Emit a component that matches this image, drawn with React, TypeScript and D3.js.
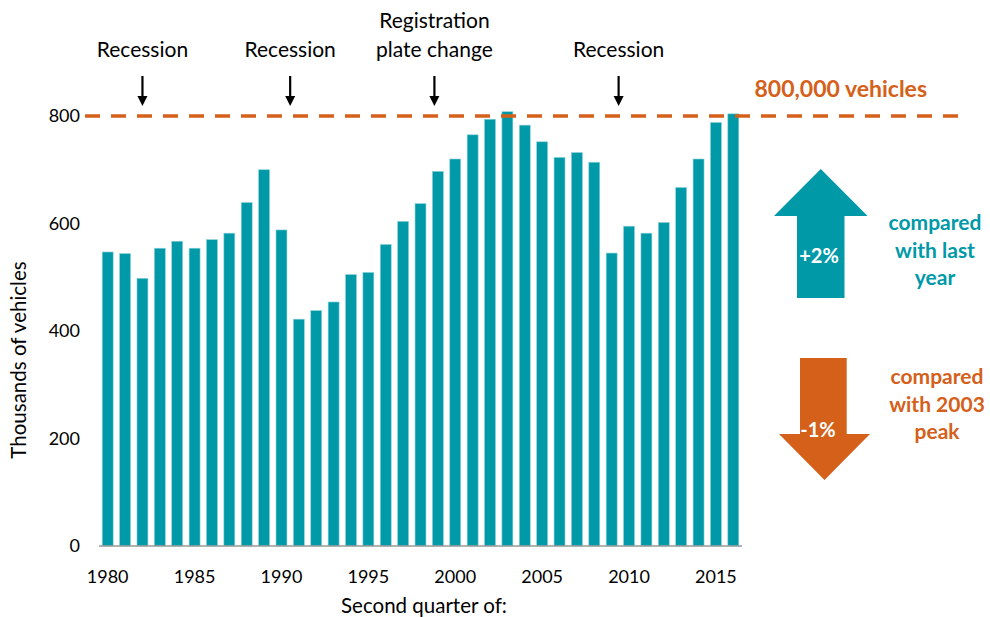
import React from "react";
import * as d3 from "d3";

const years: number[] = [
  1980, 1981, 1982, 1983, 1984, 1985, 1986, 1987, 1988, 1989,
  1990, 1991, 1992, 1993, 1994, 1995, 1996, 1997, 1998, 1999,
  2000, 2001, 2002, 2003, 2004, 2005, 2006, 2007, 2008, 2009,
  2010, 2011, 2012, 2013, 2014, 2015, 2016,
];
const vehicles: number[] = [
  547, 544, 498, 554, 567, 554, 570, 582, 639, 700,
  588, 422, 438, 454, 505, 509, 561, 604, 637, 697,
  720, 765, 794, 808, 783, 752, 723, 732, 714, 545,
  595, 582, 602, 667, 720, 788, 804,
];
const yTicks: number[] = [0, 200, 400, 600, 800];
const xTickYears: number[] = [1980, 1985, 1990, 1995, 2000, 2005, 2010, 2015];
const events = [
  { year: 1982, lines: ["Recession"] },
  { year: 1990.5, lines: ["Recession"] },
  { year: 1998.8, lines: ["Registration", "plate change"] },
  { year: 2009.4, lines: ["Recession"] },
];
const threshold = 800;
const thresholdLabel = "800,000 vehicles";
const upLabel = "+2%";
const upText = ["compared", "with last", "year"];
const downLabel = "-1%";
const downText = ["compared", "with 2003", "peak"];

const TEAL = "#0099A8";
const ORANGE = "#D4601A";
const FONT = "Lato, 'Open Sans', sans-serif";

export default function App() {
  const W = 990;
  const H = 617;
  const x = d3
    .scaleBand<number>()
    .domain(years)
    .range([99, 742])
    .paddingInner(0.37)
    .paddingOuter(0.185);
  const y = d3.scaleLinear().domain([0, 800]).range([546, 116]);
  const step = x.step();
  const xc = (yr: number) => (x(years[0]) as number) + x.bandwidth() / 2 + (yr - years[0]) * step;

  return (
    <svg width={W} height={H} style={{ position: "absolute", left: 0, top: 0, background: "#fff" }} fontFamily={FONT}>
      {/* bars */}
      {years.map((yr, i) => (
        <rect
          key={yr}
          x={x(yr)}
          y={y(vehicles[i])}
          width={x.bandwidth()}
          height={y(0) - y(vehicles[i])}
          fill={TEAL}
          stroke="#8fd3da"
          strokeWidth={0.6}
        />
      ))}
      {/* x axis line */}
      <line x1={99} x2={742} y1={y(0)} y2={y(0)} stroke="#999" strokeWidth={1.5} />
      {/* y tick labels */}
      {yTicks.map((t) => (
        <text key={t} x={80} y={y(t)} dy="0.35em" textAnchor="end" fontSize={18} fill="#000">
          {t}
        </text>
      ))}
      {/* x tick labels */}
      {xTickYears.map((t) => (
        <text key={t} x={xc(t)} y={583} textAnchor="middle" fontSize={18} fill="#000">
          {t}
        </text>
      ))}
      {/* axis titles */}
      <text x={424} y={613} textAnchor="middle" fontSize={20.5} fill="#000">
        Second quarter of:
      </text>
      <text
        transform={`translate(26, ${360}) rotate(-90)`}
        textAnchor="middle"
        fontSize={20.5}
        fill="#000"
      >
        Thousands of vehicles
      </text>
      {/* threshold line */}
      <line
        x1={85}
        x2={960}
        y1={y(threshold)}
        y2={y(threshold)}
        stroke={ORANGE}
        strokeWidth={3.5}
        strokeDasharray="15 11"
      />
      <text x={927} y={97} textAnchor="end" fontSize={23} fontWeight="bold" fill={ORANGE}>
        {thresholdLabel}
      </text>
      {/* events */}
      {events.map((e, i) => {
        const cx = xc(e.year);
        const n = e.lines.length;
        return (
          <g key={i}>
            {e.lines.map((l, j) => (
              <text
                key={j}
                x={cx}
                y={57 - (n - 1 - j) * 29}
                textAnchor="middle"
                fontSize={21}
                fill="#000"
              >
                {l}
              </text>
            ))}
            <line x1={cx} x2={cx} y1={76} y2={98} stroke="#000" strokeWidth={2.2} />
            <path d={`M${cx - 5},${96} L${cx + 5},${96} L${cx},${106} Z`} fill="#000" />
          </g>
        );
      })}
      {/* up arrow */}
      <path
        d="M797,298 L797,216 L774,216 L820.8,169 L867.6,216 L844.5,216 L844.5,298 Z"
        fill={TEAL}
      />
      <text x={819} y={263} textAnchor="middle" fontSize={20} fontWeight="bold" fill="#fff">
        {upLabel}
      </text>
      {upText.map((l, j) => (
        <text key={j} x={935} y={230 + j * 27.5} textAnchor="middle" fontSize={21} fontWeight="bold" fill={TEAL}>
          {l}
        </text>
      ))}
      {/* down arrow */}
      <path
        d="M800,358 L846.7,358 L846.7,434 L870,434 L824.5,480 L779,434 L800,434 Z"
        fill={ORANGE}
      />
      <text x={818} y={437} textAnchor="middle" fontSize={20} fontWeight="bold" fill="#fff">
        {downLabel}
      </text>
      {downText.map((l, j) => (
        <text key={j} x={937} y={384 + j * 27.5} textAnchor="middle" fontSize={21} fontWeight="bold" fill={ORANGE}>
          {l}
        </text>
      ))}
    </svg>
  );
}
